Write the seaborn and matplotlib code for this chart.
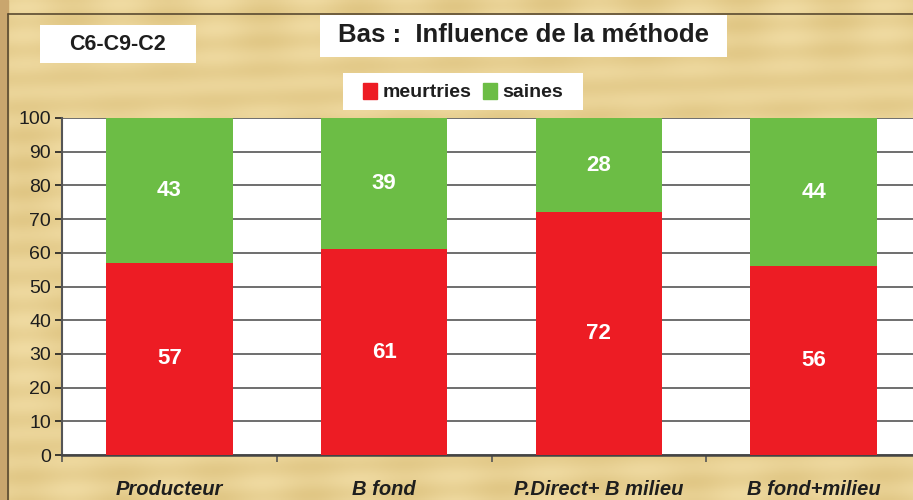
import numpy as np
import pandas as pd
import matplotlib
matplotlib.use("Agg")
import matplotlib.pyplot as plt
import seaborn as sns
from matplotlib.patches import Patch, Rectangle

# data
categories = ["Producteur", "B fond", "P.Direct+ B milieu", "B fond+milieu"]
meurtries = [57, 61, 72, 56]
saines = [43, 39, 28, 44]

RED = "#ED1C24"
GREEN = "#6CBD45"
INK = "#1E1E1E"

sns.set_theme(style="white")
plt.rcParams["font.family"] = ["Liberation Sans", "DejaVu Sans"]

df = pd.DataFrame({"methode": categories, "meurtries": meurtries, "saines": saines})
df["total"] = df["meurtries"] + df["saines"]

fig = plt.figure(figsize=(9.13, 5.0), dpi=100)
fig.patch.set_facecolor("#E9D2A0")

# parchment-like background (smooth, deterministic shading)
bg = fig.add_axes([0, 0, 1, 1], zorder=-10)
xx, yy = np.meshgrid(np.linspace(0, 1, 400), np.linspace(0, 1, 220))
shade = 0.5 + 0.2 * np.sin(xx * 60) * np.cos(yy * 9) + 0.15 * np.sin(yy * 110 + xx * 7)
bg.imshow(shade, cmap=sns.blend_palette(["#DDC27E", "#F3DFA8"], as_cmap=True),
          aspect="auto", extent=[0, 1, 0, 1], vmin=0, vmax=1)
bg.axvspan(0, 0.009, color="#C9A66E")
bg.plot([0.009, 0.009], [0, 0.972], color="#5A4A30", lw=1.2)
bg.plot([0.009, 1], [0.972, 0.972], color="#5A4A30", lw=1.2)
bg.set_xlim(0, 1)
bg.set_ylim(0, 1)
bg.axis("off")

ax = fig.add_axes([62 / 913, 45 / 500, 859 / 913, 337 / 500])
ax.set_facecolor("white")

sns.barplot(data=df, x="methode", y="total", color=GREEN, width=0.59,
            saturation=1, linewidth=0, ax=ax, zorder=3)
sns.barplot(data=df, x="methode", y="meurtries", color=RED, width=0.59,
            saturation=1, linewidth=0, ax=ax, zorder=3)

for i, (m, s) in enumerate(zip(meurtries, saines)):
    ax.text(i, m / 2, str(m), ha="center", va="center", color="white",
            fontsize=16, fontweight="bold", zorder=5)
    ax.text(i, m + s / 2, str(s), ha="center", va="center", color="white",
            fontsize=16, fontweight="bold", zorder=5)

ax.set_xlim(-0.5, 3.5)
ax.set_ylim(0, 100)
ax.set_yticks(range(0, 101, 10))
ax.yaxis.grid(True, color="#555555", lw=1.2, zorder=0)
ax.set_axisbelow(True)
ax.set_xlabel("")
ax.set_ylabel("")
ax.tick_params(axis="y", labelsize=14, colors=INK, length=5, width=1.2,
               left=True, direction="out", pad=3)
ax.set_xticks([-0.5, 0.5, 1.5, 2.5])
ax.set_xticks(range(4), minor=True)
ax.set_xticklabels([])
ax.set_xticklabels(categories, minor=True, fontsize=14.5, fontweight="bold",
                   fontstyle="italic", color=INK)
ax.tick_params(axis="x", which="major", length=5, width=1.2, bottom=True,
               colors="#555555")
ax.tick_params(axis="x", which="minor", length=0, pad=18)
for side in ["top", "right"]:
    ax.spines[side].set_visible(False)
ax.spines["left"].set_color("#555555")
ax.spines["left"].set_linewidth(1.5)
ax.spines["bottom"].set_color("#444444")
ax.spines["bottom"].set_linewidth(1.8)

# white text boxes above the chart
for (x0, y0, x1, y1) in [(40, 25, 196, 63), (320, 15, 727, 57), (343, 73, 583, 110)]:
    bg.add_patch(Rectangle((x0 / 913, 1 - y1 / 500), (x1 - x0) / 913, (y1 - y0) / 500,
                           fc="white", ec="none", zorder=2))
fig.text(117 / 913, 1 - 44 / 500, "C6-C9-C2", ha="center", va="center",
         fontsize=15.5, fontweight="bold", color=INK)
fig.text(523 / 913, 1 - 35 / 500, "Bas :  Influence de la méthode", ha="center",
         va="center", fontsize=18.5, fontweight="bold", color=INK)

# legend
handles = [Patch(color=RED, label="meurtries"), Patch(color=GREEN, label="saines")]
leg = fig.legend(handles=handles, loc="center", bbox_to_anchor=(463 / 913, 1 - 92 / 500),
                 ncol=2, frameon=False, handlelength=0.7, handleheight=0.9,
                 handletextpad=0.3, columnspacing=0.6, borderpad=0.5,
                 prop={"weight": "bold", "size": 14})
for t in leg.get_texts():
    t.set_color(INK)

fig.savefig("out.png", dpi=100, facecolor=fig.get_facecolor())
